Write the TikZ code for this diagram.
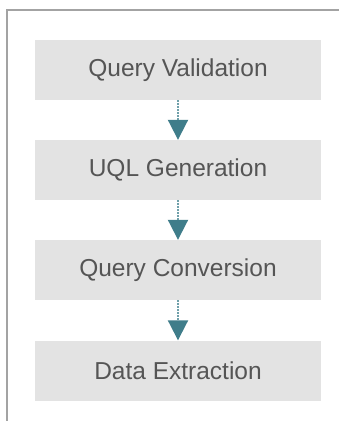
\documentclass[tikz,border=0pt]{standalone}
\usepackage{fontspec}
\setmainfont{Liberation Sans}
\usetikzlibrary{arrows.meta}
\definecolor{boxfill}{HTML}{E3E3E3}
\definecolor{boxtext}{HTML}{555555}
\definecolor{flowhead}{HTML}{3F7D8A}
\definecolor{flowline}{HTML}{6FA0AA}
\definecolor{framegray}{HTML}{A3A3A3}
\begin{document}
\begin{tikzpicture}[x=1pt,y=1pt,
  stagebox/.style={fill=boxfill,draw=none,minimum width=286pt,minimum height=60pt,
    inner sep=0pt,text=boxtext,font=\fontsize{24.5}{29}\selectfont},
  flow/.style={draw=flowline,line width=2pt,dash pattern=on 2pt off 1pt,
    -{Triangle[width=20pt,length=20pt,color=flowhead]}}]
  \useasboundingbox (0,0) rectangle (339,-421);
  % outer frame: left and top edges
  \draw[framegray,line width=1.2pt] (7,-421) -- (7,-10) -- (339,-10);
  % pipeline stages
  \node[stagebox] (valid) at (178,-70) {Query Validation};
  \node[stagebox] (uql)   at (178,-170) {UQL Generation};
  \node[stagebox] (conv)  at (178,-270) {Query Conversion};
  \node[stagebox] (extr)  at (178,-370.5) {Data Extraction};
  % connectors
  \draw[flow] (valid.south) -- (uql.north);
  \draw[flow] (uql.south) -- (conv.north);
  \draw[flow] (conv.south) -- (extr.north);
\end{tikzpicture}
\end{document}
